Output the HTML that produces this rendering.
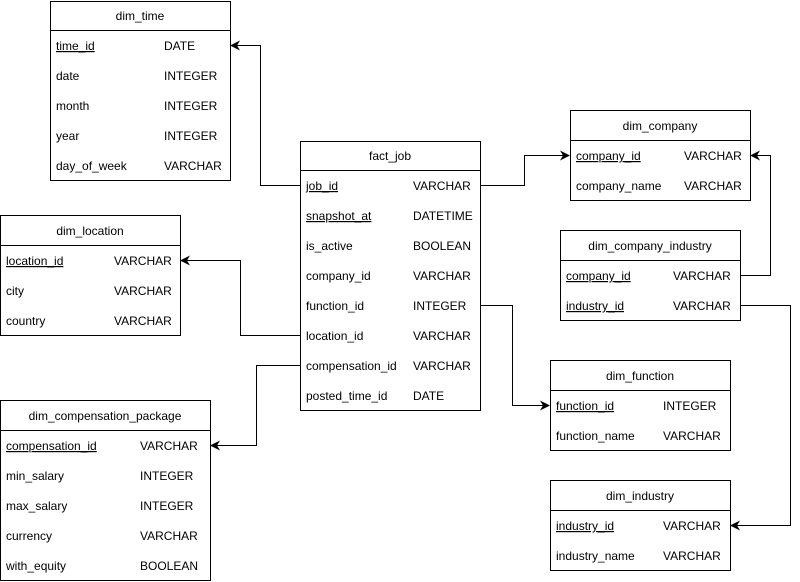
<!DOCTYPE html>
<html><head><meta charset="utf-8"><style>
html,body{margin:0;padding:0;background:#fff;}
svg{display:block;}
text{font-family:"Liberation Sans",Arial,sans-serif;font-size:12px;fill:#000;}
</style></head><body>
<svg width="800" height="582" viewBox="0 0 800 582" xmlns="http://www.w3.org/2000/svg">
<defs><marker id="a" markerWidth="10" markerHeight="10" refX="9" refY="5" orient="auto" markerUnits="userSpaceOnUse"><path d="M0,0 L10,5 L0,10 L3,5 z" fill="#000"/></marker></defs>
<g fill="none" stroke="#000" stroke-width="1">
<path d="M480.5,185.5 H524.5 V155.5 H569" marker-end="url(#a)"/>
<path d="M300.5,185.5 H260.5 V45.5 H231" marker-end="url(#a)"/>
<path d="M300.5,335.5 H240.5 V260.5 H181" marker-end="url(#a)"/>
<path d="M300.5,365.5 H256.5 V445.5 H211" marker-end="url(#a)"/>
<path d="M480.5,305.5 H512.5 V405.5 H549" marker-end="url(#a)"/>
<path d="M740.5,275.5 H770.5 V155.5 H751" marker-end="url(#a)"/>
<path d="M740.5,305.5 H790.5 V525.5 H731" marker-end="url(#a)"/>
<!-- boxes -->
<rect x="50.5" y="1.5" width="180" height="179"/><line x1="50.5" y1="30.5" x2="230.5" y2="30.5"/>
<rect x="300.5" y="141.5" width="180" height="269"/><line x1="300.5" y1="170.5" x2="480.5" y2="170.5"/>
<rect x="570.5" y="110.5" width="180" height="90"/><line x1="570.5" y1="140.5" x2="750.5" y2="140.5"/>
<rect x="0.5" y="215.5" width="180" height="120"/><line x1="0.5" y1="245.5" x2="180.5" y2="245.5"/>
<rect x="560.5" y="230.5" width="180" height="90"/><line x1="560.5" y1="260.5" x2="740.5" y2="260.5"/>
<rect x="550.5" y="360.5" width="180" height="90"/><line x1="550.5" y1="390.5" x2="730.5" y2="390.5"/>
<rect x="550.5" y="480.5" width="180" height="90"/><line x1="550.5" y1="510.5" x2="730.5" y2="510.5"/>
<rect x="0.5" y="400.5" width="210" height="180"/><line x1="0.5" y1="430.5" x2="210.5" y2="430.5"/>
</g>
<g>
<text x="140" y="20" text-anchor="middle">dim_time</text>
<text x="56" y="50" text-decoration="underline">time_id</text><text x="164" y="50">DATE</text>
<text x="56" y="80">date</text><text x="164" y="80">INTEGER</text>
<text x="56" y="110">month</text><text x="164" y="110">INTEGER</text>
<text x="56" y="140">year</text><text x="164" y="140">INTEGER</text>
<text x="56" y="170">day_of_week</text><text x="164" y="170">VARCHAR</text>

<text x="390" y="160" text-anchor="middle">fact_job</text>
<text x="306" y="190" text-decoration="underline">job_id</text><text x="413" y="190">VARCHAR</text>
<text x="306" y="220" text-decoration="underline">snapshot_at</text><text x="413" y="220">DATETIME</text>
<text x="306" y="250">is_active</text><text x="413" y="250">BOOLEAN</text>
<text x="306" y="280">company_id</text><text x="413" y="280">VARCHAR</text>
<text x="306" y="310">function_id</text><text x="413" y="310">INTEGER</text>
<text x="306" y="340">location_id</text><text x="413" y="340">VARCHAR</text>
<text x="306" y="370">compensation_id</text><text x="413" y="370">VARCHAR</text>
<text x="306" y="400">posted_time_id</text><text x="413" y="400">DATE</text>

<text x="660" y="130" text-anchor="middle">dim_company</text>
<text x="576" y="160" text-decoration="underline">company_id</text><text x="684" y="160">VARCHAR</text>
<text x="576" y="190">company_name</text><text x="684" y="190">VARCHAR</text>

<text x="90" y="235" text-anchor="middle">dim_location</text>
<text x="6" y="265" text-decoration="underline">location_id</text><text x="114" y="265">VARCHAR</text>
<text x="6" y="295">city</text><text x="114" y="295">VARCHAR</text>
<text x="6" y="325">country</text><text x="114" y="325">VARCHAR</text>

<text x="650" y="250" text-anchor="middle">dim_company_industry</text>
<text x="566" y="280" text-decoration="underline">company_id</text><text x="673" y="280">VARCHAR</text>
<text x="566" y="310" text-decoration="underline">industry_id</text><text x="673" y="310">VARCHAR</text>

<text x="640" y="380" text-anchor="middle">dim_function</text>
<text x="556" y="410" text-decoration="underline">function_id</text><text x="663" y="410">INTEGER</text>
<text x="556" y="440">function_name</text><text x="663" y="440">VARCHAR</text>

<text x="640" y="500" text-anchor="middle">dim_industry</text>
<text x="556" y="530" text-decoration="underline">industry_id</text><text x="663" y="530">VARCHAR</text>
<text x="556" y="560">industry_name</text><text x="663" y="560">VARCHAR</text>

<text x="105" y="420" text-anchor="middle">dim_compensation_package</text>
<text x="6" y="450" text-decoration="underline">compensation_id</text><text x="140" y="450">VARCHAR</text>
<text x="6" y="480">min_salary</text><text x="140" y="480">INTEGER</text>
<text x="6" y="510">max_salary</text><text x="140" y="510">INTEGER</text>
<text x="6" y="540">currency</text><text x="140" y="540">VARCHAR</text>
<text x="6" y="570">with_equity</text><text x="140" y="570">BOOLEAN</text>
</g>
</svg>
</body></html>
